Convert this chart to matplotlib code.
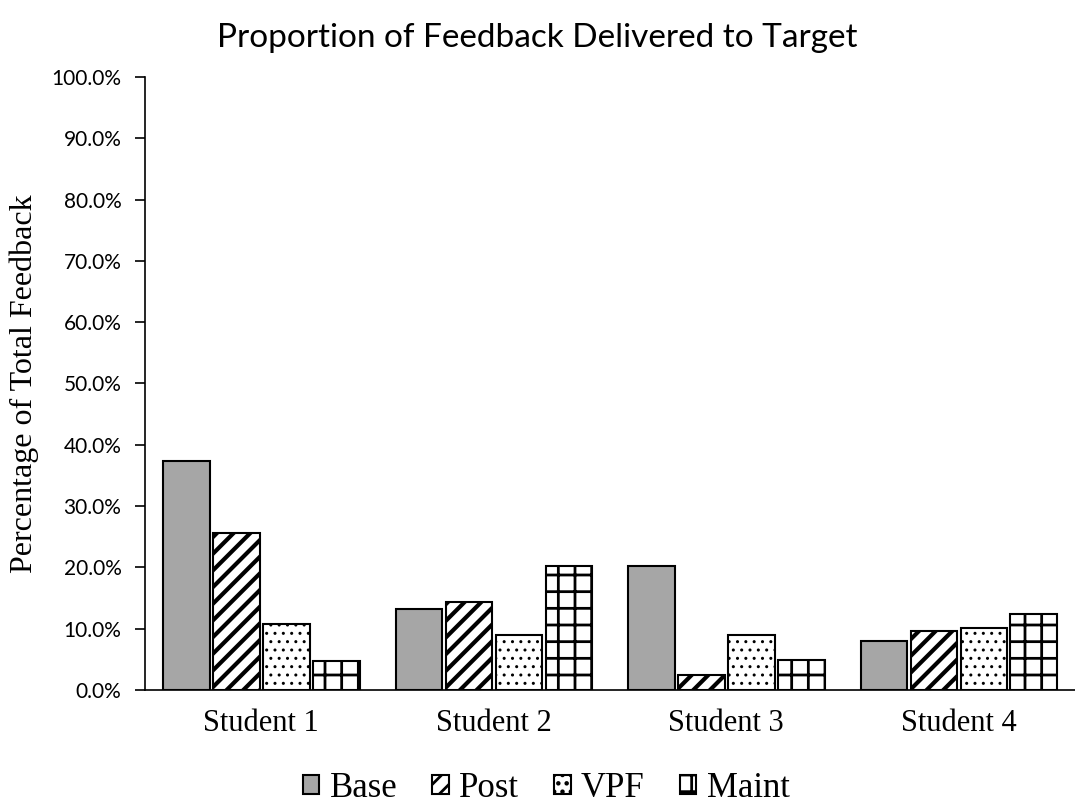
import numpy as np
import matplotlib.pyplot as plt
from matplotlib.ticker import PercentFormatter

students = ["Student 1", "Student 2", "Student 3", "Student 4"]
series = ["Base", "Post", "VPF", "Maint"]
base = [37.4, 13.2, 20.2, 8.0]
post = [25.6, 14.4, 2.4, 9.6]
vpf = [10.8, 9.0, 9.0, 10.1]
maint = [4.7, 20.2, 4.9, 12.4]

sans = "Lato"
serif = "Liberation Serif"

fig = plt.figure(figsize=(10.75, 8.06), dpi=100)
ax = fig.add_axes([0.135, 0.144, 0.865, 0.7605])

x = np.arange(len(students))
width = 0.2
pitch = 0.215
# fill colour, hatch, hatch line width
styles = [
    ("#a6a6a6", None, 1.0),
    ("white", "//", 3.0),
    ("white", "..", 1.0),
    ("white", "+", 2.0),
]
for i, (vals, st) in enumerate(zip([base, post, vpf, maint], styles)):
    plt.rcParams["hatch.linewidth"] = st[2]
    bars = ax.bar(x + (i - 1.5) * pitch, vals, width, color=st[0],
                  hatch=st[1], edgecolor="black", linewidth=1.5,
                  label=series[i])
    for b in bars:
        if hasattr(b, "set_hatch_linewidth"):
            b.set_hatch_linewidth(st[2])

ax.set_xlim(-0.5, 3.5)
ax.set_ylim(0, 100)
ax.set_yticks(np.arange(0, 101, 10))
ax.yaxis.set_major_formatter(PercentFormatter(decimals=1))
ax.set_xticks(x)
ax.set_xticklabels(students, fontfamily=serif, fontsize=22)
ax.tick_params(axis="x", length=0, pad=14)
ax.tick_params(axis="y", direction="out", length=7, width=1.2, labelsize=15, pad=10)
for lab in ax.get_yticklabels():
    lab.set_fontfamily(sans)
for s in ["top", "right"]:
    ax.spines[s].set_visible(False)
ax.spines["left"].set_linewidth(1.2)
ax.spines["bottom"].set_linewidth(1.2)

ax.set_ylabel("Percentage of Total Feedback", fontfamily=serif,
              fontsize=23, labelpad=9)
fig.suptitle("Proportion of Feedback Delivered to Target", fontfamily=sans,
             fontsize=24, x=0.5, y=0.972)

fig.legend(loc="lower center", bbox_to_anchor=(0.508, -0.037), ncol=4, frameon=False,
           prop={"family": serif, "size": 25},
           handlelength=0.48, handleheight=0.48, handletextpad=0.3,
           columnspacing=1.0)

fig.savefig("out.png", dpi=100)
